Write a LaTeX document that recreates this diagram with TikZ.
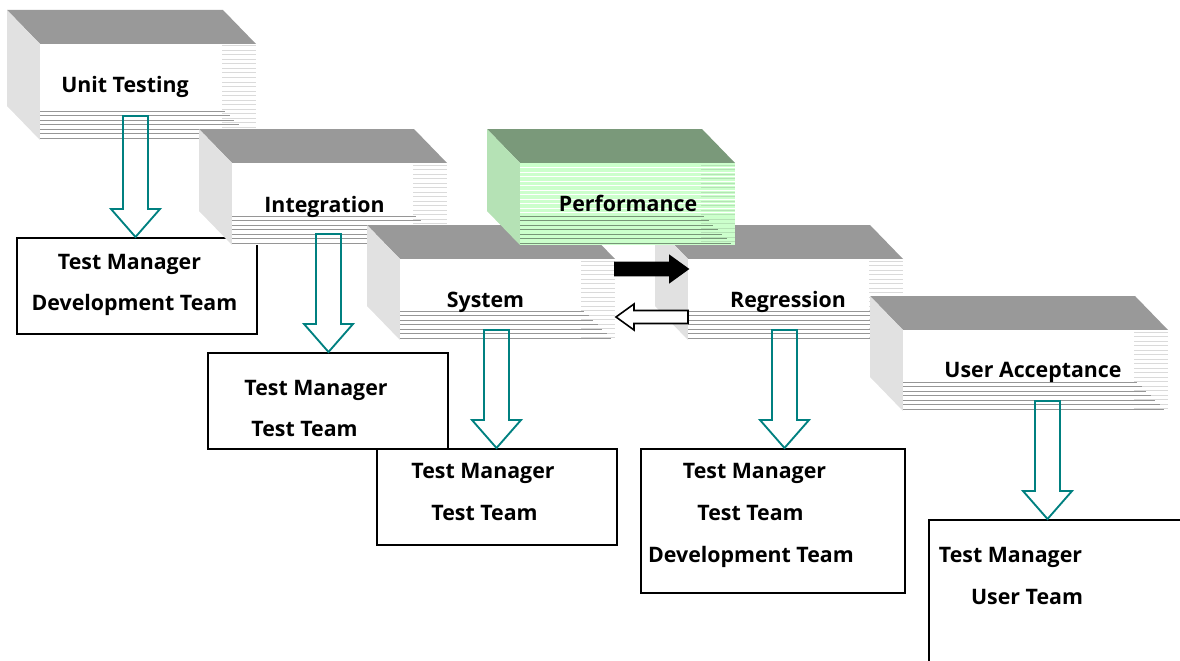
\documentclass[tikz,border=0pt]{standalone}
\usepackage{fontspec}
\setmainfont{Open Sans}
\usetikzlibrary{calc}

\definecolor{stackgray}{RGB}{153,153,153}
\definecolor{sidegray}{RGB}{225,225,225}
\definecolor{edgegray}{RGB}{218,218,218}
\definecolor{linegray}{RGB}{150,150,150}
\definecolor{perftop}{RGB}{122,153,122}
\definecolor{perfside}{RGB}{181,226,181}
\definecolor{perfface}{RGB}{204,255,204}
\definecolor{perfline}{RGB}{120,150,120}
\definecolor{feedteal}{RGB}{0,128,128}

\begin{document}
\begin{tikzpicture}[
    x=0.75pt, y=-0.75pt,
    font=\fontsize{16}{19}\selectfont\bfseries,
    stacktop/.style={fill=stackgray},
    stackside/.style={fill=sidegray},
    stackface/.style={fill=white},
    stacksheen/.style={draw=none},
    stackedge/.style={draw=edgegray, line width=0.75pt},
    stackline/.style={draw=linegray, line width=0.75pt},
    greenstack/.style={stacktop/.style={fill=perftop}, stackside/.style={fill=perfside},
        stackface/.style={fill=perfface}, stacksheen/.style={draw=white, line width=0.75pt},
        stackedge/.style={draw=perfside, line width=0.75pt},
        stackline/.style={draw=perfline, line width=0.75pt}},
    % a pile of sheets: front width, front height
    pics/stack/.style 2 args={code={
        \fill[stacktop] (-33,-34) -- (#1-33,-34) -- (#1,0) -- (0,0) -- cycle;
        \fill[stackside] (-33,-34) -- (0,0) -- (0,#2) -- (-33,#2-34) -- cycle;
        \fill[stackface] (0,0) rectangle (#1,#2);
        \pgfmathtruncatemacro\nsheen{(#2-32)/4.5}
        \pgfmathtruncatemacro\nedge{(#2-2)/4.5}
        \foreach \k in {1,...,\nsheen} \draw[stacksheen] (0,4.5*\k) -- (#1,4.5*\k);
        \foreach \k in {0,...,\nedge} \draw[stackedge] (#1-34,2+4.5*\k) -- (#1,2+4.5*\k);
        \foreach \k in {0,...,6} \draw[stackline] (0,#2-29+4.5*\k) -- (#1-31+4.5*\k,#2-29+4.5*\k);
        \coordinate (-nw) at (0,0);
        \coordinate (-ne) at (#1,0);
    }},
    teambox/.style={draw, line width=1.2pt, anchor=north west, inner sep=0,
        minimum width=180pt, minimum height=72pt},
    caption/.style={anchor=base, inner sep=0},
    feed/.style={draw=feedteal, line width=1.4pt, line join=miter, to path={
        ($(\tikztostart)+(-12.5,0)$) -- ($(\tikztotarget)+(-12.5,-28)$)
        -- ($(\tikztotarget)+(-24.5,-28)$) -- (\tikztotarget)
        -- ($(\tikztotarget)+(24.5,-28)$) -- ($(\tikztotarget)+(12.5,-28)$)
        -- ($(\tikztostart)+(12.5,0)$) -- cycle}},
    handover/.style={draw=black, line width=1.2pt, line join=miter, to path={
        ($(\tikztostart)+(0,-6.5)$) -- ($(\tikztotarget)+({-(#1)},-6.5)$)
        -- ($(\tikztotarget)+({-(#1)},-13)$) -- (\tikztotarget)
        -- ($(\tikztotarget)+({-(#1)},13)$) -- ($(\tikztotarget)+({-(#1)},6.5)$)
        -- ($(\tikztostart)+(0,6.5)$) -- cycle}}
]
\useasboundingbox (0,0) rectangle (1180,660);
\clip (0,0) rectangle (1180,660);

% team boxes
\node[teambox] (tm1) at (16,237) {};
\node[teambox] (tm2) at (207,352) {};
\node[teambox] (tm3) at (376,448) {};
\node[teambox, minimum width=198pt, minimum height=108pt] (tm4) at (640,448) {};
\node[teambox, minimum width=206pt, minimum height=114pt] (tm5) at (928,519) {};

% test stages
\pic (unit) at (40,44) {stack={216}{96}};
\pic (integ) at (232,163) {stack={215}{82}};
\pic (system) at (400,259) {stack={215}{81}};
\pic (regression) at (688,259) {stack={215}{81}};
\pic[greenstack] (perf) at (520,163) {stack={215}{82}};
\pic (accept) at (903,330) {stack={265}{81}};

\node[caption] (unitlbl) at (125,92) {Unit Testing};
\node[caption] (integlbl) at (324.5,212) {Integration};
\node[caption] (perflbl) at (628,211.5) {Performance};
\node[caption] (systemlbl) at (485.5,307) {System};
\node[caption] (regressionlbl) at (788,307) {Regression};
\node[caption] (acceptlbl) at (1033,377) {User Acceptance};

% who runs each stage
\node[caption] (mgr1) at (129.5,269) {Test Manager};
\node[caption] (dev1) at (134.5,310) {Development Team};
\node[caption] (mgr2) at (316,395) {Test Manager};
\node[caption] (team2) at (304.5,436) {Test Team};
\node[caption] (mgr3) at (483,478) {Test Manager};
\node[caption] (team3) at (484.5,520) {Test Team};
\node[caption] (mgr4) at (754.5,478) {Test Manager};
\node[caption] (team4) at (750.5,520) {Test Team};
\node[caption] (dev4) at (751,562) {Development Team};
\node[caption] (mgr5) at (1010.5,562) {Test Manager};
\node[caption] (user5) at (1027,604) {User Team};

% arrows down to the teams
\coordinate (unitfeed) at ($(unit-nw)+(95.5,72)$);
\coordinate (integfeed) at ($(integ-nw)+(96.5,71)$);
\coordinate (systemfeed) at ($(system-nw)+(96.5,71)$);
\coordinate (regressionfeed) at ($(regression-nw)+(96.5,71)$);
\coordinate (acceptfeed) at ($(accept-nw)+(144.5,71)$);
\draw[feed] (unitfeed) to (unitfeed |- tm1.north);
\draw[feed] (integfeed) to (integfeed |- tm2.north);
\draw[feed] (systemfeed) to (systemfeed |- tm3.north);
\draw[feed] (regressionfeed) to (regressionfeed |- tm4.north);
\draw[feed] (acceptfeed) to (acceptfeed |- tm5.north);

% system <-> regression
\draw[handover=18, fill=black] ($(system-ne)+(0,10)$) to ($(regression-nw)+(0,10)$);
\draw[handover=-18, fill=white] ($(regression-nw)+(0,58)$) to ($(system-ne)+(1,58)$);
\end{tikzpicture}
\end{document}
